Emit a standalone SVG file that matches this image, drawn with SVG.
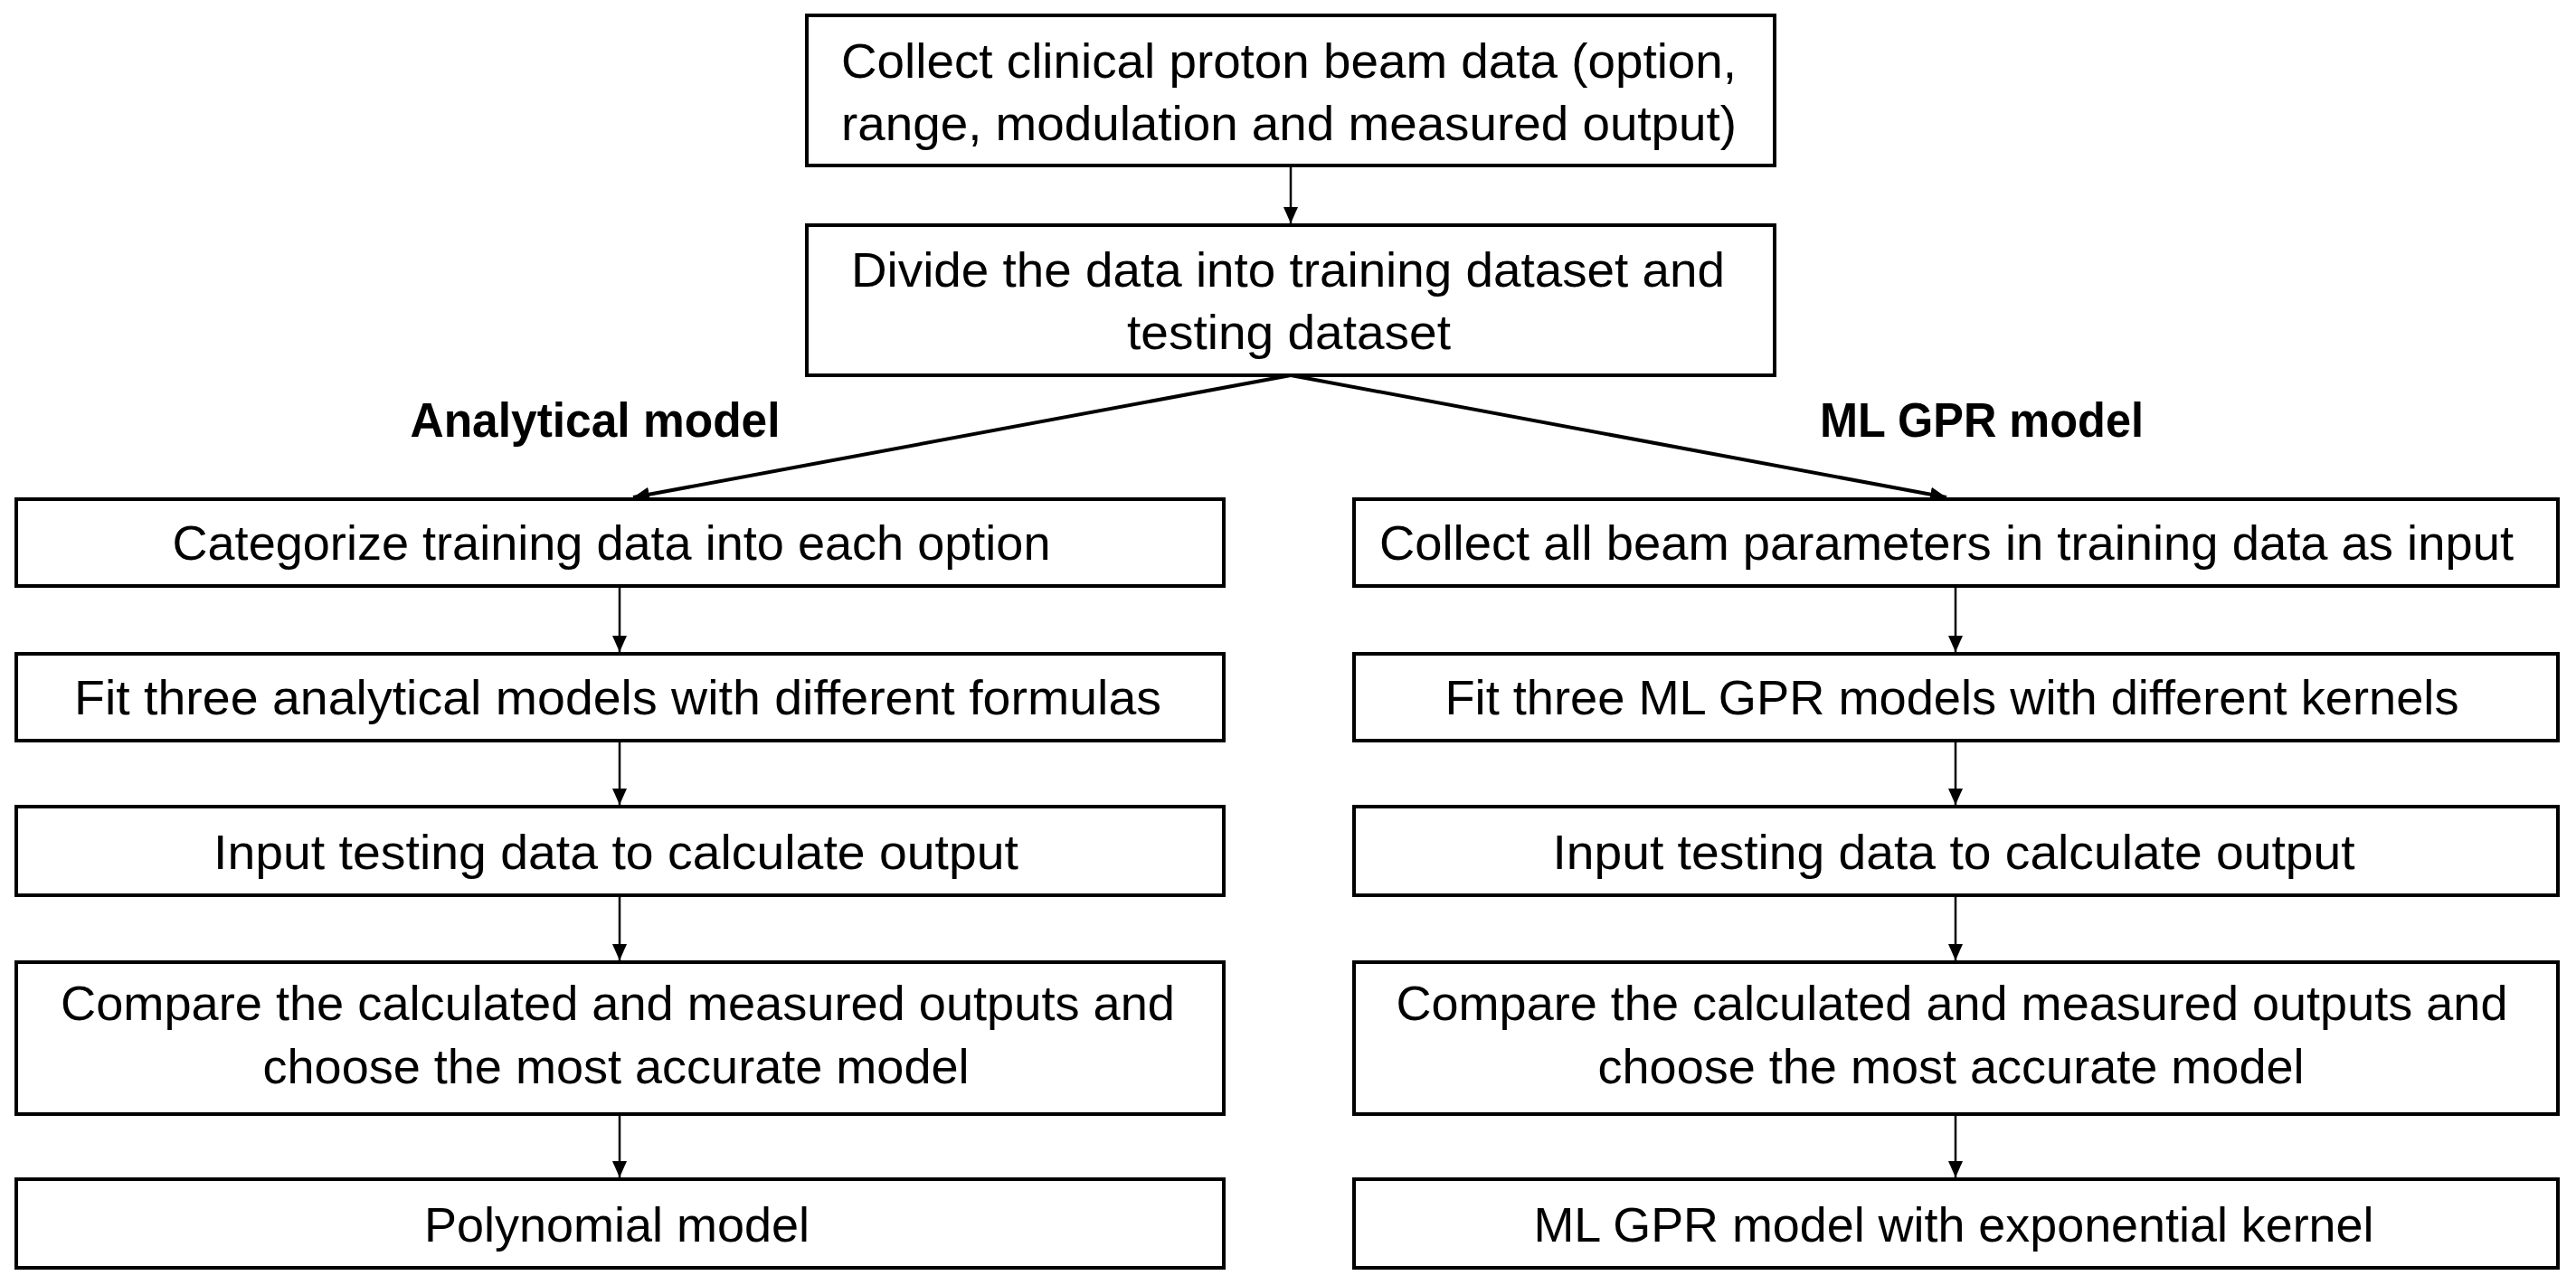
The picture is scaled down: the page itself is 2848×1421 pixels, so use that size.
<svg xmlns="http://www.w3.org/2000/svg" width="2848" height="1421" viewBox="0 0 2848 1421">
<style>
.box{fill:#fff;stroke:#000;stroke-width:4}
.t{font-family:"Liberation Sans","Open Sans",sans-serif;font-size:53px;fill:#000;text-anchor:middle}
.lbl{font-family:"Liberation Sans","Open Sans",sans-serif;font-size:54px;font-weight:bold;fill:#000;text-anchor:middle}
.c{stroke:#000;stroke-width:2.5;fill:none}
.d{stroke:#000;stroke-width:4;fill:none}
</style>
<defs>
<marker id="ah" markerUnits="userSpaceOnUse" markerWidth="20" markerHeight="18" refX="18" refY="9" orient="auto">
<path d="M0,1 L18,9 L0,17 Z" fill="#000"/>
</marker>
</defs>
<rect width="2848" height="1421" fill="#fff"/>
<g id="connectors">
<line class="c" x1="1427" y1="183" x2="1427" y2="247" marker-end="url(#ah)"/>
<line class="d" x1="1427" y1="415" x2="700" y2="550" marker-end="url(#ah)"/>
<line class="d" x1="1427" y1="415" x2="2152" y2="550" marker-end="url(#ah)"/>
<line class="c" x1="685" y1="648" x2="685" y2="721" marker-end="url(#ah)"/>
<line class="c" x1="685" y1="819" x2="685" y2="890" marker-end="url(#ah)"/>
<line class="c" x1="685" y1="990" x2="685" y2="1062" marker-end="url(#ah)"/>
<line class="c" x1="685" y1="1232" x2="685" y2="1302" marker-end="url(#ah)"/>
<line class="c" x1="2162" y1="648" x2="2162" y2="721" marker-end="url(#ah)"/>
<line class="c" x1="2162" y1="819" x2="2162" y2="890" marker-end="url(#ah)"/>
<line class="c" x1="2162" y1="990" x2="2162" y2="1062" marker-end="url(#ah)"/>
<line class="c" x1="2162" y1="1232" x2="2162" y2="1302" marker-end="url(#ah)"/>
</g>
<g id="n-collect">
<rect class="box" x="892" y="17" width="1070" height="166"/>
<text class="t" x="1425" y="86" textLength="990" lengthAdjust="spacingAndGlyphs">Collect clinical proton beam data (option,</text>
<text class="t" x="1425" y="155" textLength="990" lengthAdjust="spacingAndGlyphs">range, modulation and measured output)</text>
</g>
<g id="n-divide">
<rect class="box" x="892" y="249" width="1070" height="166"/>
<text class="t" x="1424" y="317" textLength="966" lengthAdjust="spacingAndGlyphs">Divide the data into training dataset and</text>
<text class="t" x="1425" y="386" textLength="358" lengthAdjust="spacingAndGlyphs">testing dataset</text>
</g>
<g id="label-analytical">
<text class="lbl" x="658" y="483" textLength="409" lengthAdjust="spacingAndGlyphs">Analytical model</text>
</g>
<g id="label-ml">
<text class="lbl" x="2191" y="483" textLength="358" lengthAdjust="spacingAndGlyphs">ML GPR model</text>
</g>
<g id="n-l1">
<rect class="box" x="18" y="552" width="1335" height="96"/>
<text class="t" x="676" y="619" textLength="971" lengthAdjust="spacingAndGlyphs">Categorize training data into each option</text>
</g>
<g id="n-l2">
<rect class="box" x="18" y="723" width="1335" height="96"/>
<text class="t" x="683" y="790" textLength="1202" lengthAdjust="spacingAndGlyphs">Fit three analytical models with different formulas</text>
</g>
<g id="n-l3">
<rect class="box" x="18" y="892" width="1335" height="98"/>
<text class="t" x="681" y="961" textLength="890" lengthAdjust="spacingAndGlyphs">Input testing data to calculate output</text>
</g>
<g id="n-l4">
<rect class="box" x="18" y="1064" width="1335" height="168"/>
<text class="t" x="683" y="1128" textLength="1232" lengthAdjust="spacingAndGlyphs">Compare the calculated and measured outputs and</text>
<text class="t" x="681" y="1198" textLength="781" lengthAdjust="spacingAndGlyphs">choose the most accurate model</text>
</g>
<g id="n-l5">
<rect class="box" x="18" y="1304" width="1335" height="98"/>
<text class="t" x="682" y="1373" textLength="426" lengthAdjust="spacingAndGlyphs">Polynomial model</text>
</g>
<g id="n-r1">
<rect class="box" x="1497" y="552" width="1331" height="96"/>
<text class="t" x="2152" y="619" textLength="1254" lengthAdjust="spacingAndGlyphs">Collect all beam parameters in training data as input</text>
</g>
<g id="n-r2">
<rect class="box" x="1497" y="723" width="1331" height="96"/>
<text class="t" x="2158" y="790" textLength="1121" lengthAdjust="spacingAndGlyphs">Fit three ML GPR models with different kernels</text>
</g>
<g id="n-r3">
<rect class="box" x="1497" y="892" width="1331" height="98"/>
<text class="t" x="2160" y="961" textLength="887" lengthAdjust="spacingAndGlyphs">Input testing data to calculate output</text>
</g>
<g id="n-r4">
<rect class="box" x="1497" y="1064" width="1331" height="168"/>
<text class="t" x="2158" y="1128" textLength="1229" lengthAdjust="spacingAndGlyphs">Compare the calculated and measured outputs and</text>
<text class="t" x="2157" y="1198" textLength="781" lengthAdjust="spacingAndGlyphs">choose the most accurate model</text>
</g>
<g id="n-r5">
<rect class="box" x="1497" y="1304" width="1331" height="98"/>
<text class="t" x="2160" y="1373" textLength="929" lengthAdjust="spacingAndGlyphs">ML GPR model with exponential kernel</text>
</g>
</svg>
